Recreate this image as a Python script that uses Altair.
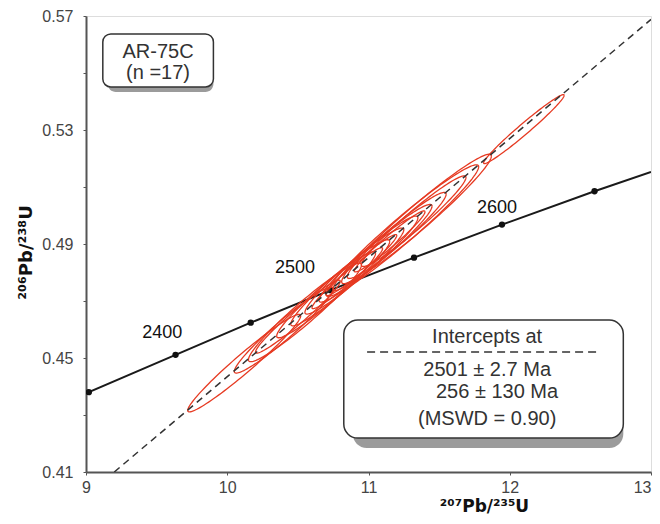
import altair as alt
import numpy as np
import pandas as pd

# ---------------- data ----------------
# concordia curve (207Pb/235U, 206Pb/238U) with age marks (Ma)
conc_x = [9.00, 9.634, 10.166, 10.730, 11.322, 11.945, 12.600, 13.00]
conc_y = [0.4376, 0.4511, 0.4624, 0.4738, 0.4852, 0.4968, 0.5085, 0.5153]
dot_x = [9.02, 9.634, 10.166, 10.730, 11.322, 11.945, 12.600]
dot_y = [0.4380, 0.4511, 0.4624, 0.4738, 0.4852, 0.4968, 0.5085]
age_labels = ["2400", "2500", "2600"]
age_label_x = [9.54, 10.48, 11.91]
age_label_y = [0.4588, 0.4816, 0.5026]

# discordia line end points
disc_x = [9.20, 13.0]
disc_y = [0.410, 0.5688]

# 17 analyses: x, 1-sigma-ish x, y, 1-sigma-ish y, error correlation
ell_x = [10.12, 10.40, 10.55, 10.50, 10.70, 10.80, 10.90, 10.85, 11.00,
         10.95, 11.10, 11.20, 11.15, 11.32, 11.24, 11.34, 12.10]
ell_sx = [0.40, 0.35, 0.40, 0.30, 0.35, 0.35, 0.35, 0.25, 0.35,
          0.25, 0.35, 0.35, 0.25, 0.37, 0.54, 0.53, 0.285]
ell_y = [0.4482, 0.4598, 0.4660, 0.4645, 0.4722, 0.4764, 0.4805, 0.4780, 0.4847,
         0.4826, 0.4888, 0.4930, 0.4909, 0.4980, 0.4947, 0.4988, 0.5303]
ell_sy = [0.0171, 0.0151, 0.0173, 0.0128, 0.0151, 0.0151, 0.0151, 0.0107, 0.0151,
          0.0107, 0.0151, 0.0151, 0.0107, 0.0159, 0.0231, 0.0227, 0.0121]
ell_rho = [0.97, 0.96, 0.96, 0.97, 0.96, 0.96, 0.96, 0.97, 0.96,
           0.97, 0.96, 0.96, 0.97, 0.965, 0.97, 0.97, 0.98]

sample_lines = ["AR-75C", "(n =17)"]
intercept_lines = ["Intercepts at", "2501  \u00b1 2.7 Ma", "256 \u00b1 130 Ma", "(MSWD = 0.90)"]

# ---------------- build tables ----------------
conc_df = pd.DataFrame({"x": conc_x, "y": conc_y, "o": range(len(conc_x))})
dot_df = pd.DataFrame({"x": dot_x, "y": dot_y})
lab_df = pd.DataFrame({"x": age_label_x, "y": age_label_y, "t": age_labels})
disc_df = pd.DataFrame({"x": disc_x, "y": disc_y})

t = np.linspace(0, 2 * np.pi, 121)
rows = []
for i in range(len(ell_x)):
    ex = ell_x[i] + ell_sx[i] * np.cos(t)
    ey = ell_y[i] + ell_sy[i] * (ell_rho[i] * np.cos(t) + np.sqrt(1 - ell_rho[i] ** 2) * np.sin(t))
    for k in range(len(t)):
        rows.append({"id": i, "o": k, "x": ex[k], "y": ey[k]})
ell_df = pd.DataFrame(rows)

# annotation boxes placed in data coordinates
box1 = pd.DataFrame({"x": [9.119], "x1": [9.902], "y": [0.5451], "y1": [0.5637]})
box1_text = pd.DataFrame({"x": [9.51, 9.51], "y": [0.5575, 0.5500], "t": sample_lines})
box2 = pd.DataFrame({"x": [10.825], "x1": [12.804], "y": [0.4219], "y1": [0.4633]})
box2_text = pd.DataFrame({"x": [11.84, 11.84, 11.91, 11.84],
                          "y": [0.4574, 0.4458, 0.4381, 0.4285],
                          "t": intercept_lines})
box2_rule = pd.DataFrame({"x": [10.99], "x1": [12.62], "y": [0.4521]})

# ---------------- chart ----------------
xs = alt.Scale(domain=[9, 13], nice=False, zero=False)
ys = alt.Scale(domain=[0.41, 0.57], nice=False, zero=False)
FONT = "Liberation Sans"
TFONT = "DejaVu Sans"

x_axis = alt.Axis(values=[9, 10, 11, 12, 13], format="d", grid=False, tickSize=3,
                  labelFontSize=16, labelFont=FONT, labelColor="#444", labelPadding=4,
                  labelAlign={"condition": {"test": "datum.value == 13", "value": "right"}, "value": "center"},
                  domainColor="#555", domainWidth=2, tickColor="#555",
                  title="\u00b2\u2070\u2077Pb/\u00b2\u00b3\u2075U", titleFont=TFONT, titleFontSize=17,
                  titleFontWeight="bold", titleColor="#111", titleX=398, titleY=43,
                  titleAnchor="middle", titleAlign="center", titleBaseline="bottom")
y_axis = alt.Axis(values=[0.41, 0.43, 0.45, 0.47, 0.49, 0.51, 0.53, 0.55, 0.57], grid=False,
                  labelExpr="indexof(['0.41','0.45','0.49','0.53','0.57'], format(datum.value,'.2f')) >= 0 ? format(datum.value,'.2f') : ''",
                  tickSize=3, labelFontSize=16, labelFont=FONT, labelColor="#444", labelPadding=10,
                  domainColor="#555", domainWidth=2, tickColor="#555",
                  title="\u00b2\u2070\u2076Pb/\u00b2\u00b3\u2078U", titleFont=TFONT, titleFontSize=18,
                  titleFontWeight="bold", titleColor="#111", titleX=-60, titleY=236,
                  titleAngle=-90, titleAlign="center", titleBaseline="middle")

X = alt.X("x:Q", scale=xs, axis=x_axis)
Y = alt.Y("y:Q", scale=ys, axis=y_axis)

disc = alt.Chart(disc_df).mark_line(color="#333", strokeWidth=1.5, strokeDash=[7, 5], clip=True).encode(x=X, y=Y)
conc = alt.Chart(conc_df).mark_line(color="#1a1a1a", strokeWidth=2, clip=True).encode(x=X, y=Y, order="o:O")
dots = alt.Chart(dot_df).mark_point(filled=True, color="#111", size=40, opacity=1, clip=True).encode(x=X, y=Y)
labs = alt.Chart(lab_df).mark_text(font=FONT, fontSize=18, color="#111").encode(x=X, y=Y, text="t:N")
ells = alt.Chart(ell_df).mark_line(color="#e63a22", strokeWidth=1.3, clip=True).encode(
    x=X, y=Y, detail="id:N", order="o:Q")

def box(df, r, dx, dy):
    sh = alt.Chart(df).mark_rect(fill="#8a8a8a", cornerRadius=r, xOffset=dx, yOffset=dy, opacity=0.85).encode(
        x=X, x2="x1:Q", y=Y, y2="y1:Q")
    fr = alt.Chart(df).mark_rect(fill="white", stroke="#333", strokeWidth=1.5, cornerRadius=r).encode(
        x=X, x2="x1:Q", y=Y, y2="y1:Q")
    return [sh, fr]

b1t = alt.Chart(box1_text).mark_text(font=FONT, fontSize=20, color="#333").encode(x=X, y=Y, text="t:N")
b2t = alt.Chart(box2_text).mark_text(font=FONT, fontSize=20, color="#333").encode(x=X, y=Y, text="t:N")
b2r = alt.Chart(box2_rule).mark_rule(color="#333", strokeWidth=1.5, strokeDash=[8, 5]).encode(
    x=X, x2="x1:Q", y=Y)

layers = [conc, dots, ells, disc, labs] + box(box1, 8, 5, 5) + [b1t] + box(box2, 14, 9, 10) + [b2r, b2t]

chart = alt.layer(*layers).properties(
    width=565, height=456,
    autosize=alt.AutoSizeParams(type="none"),
    padding={"left": 78, "top": 8, "right": 1, "bottom": 44},
).configure_view(stroke="#555", strokeWidth=1.5).configure(background="white")

chart.save("out.html", embed_options={"renderer": "svg", "actions": False})
